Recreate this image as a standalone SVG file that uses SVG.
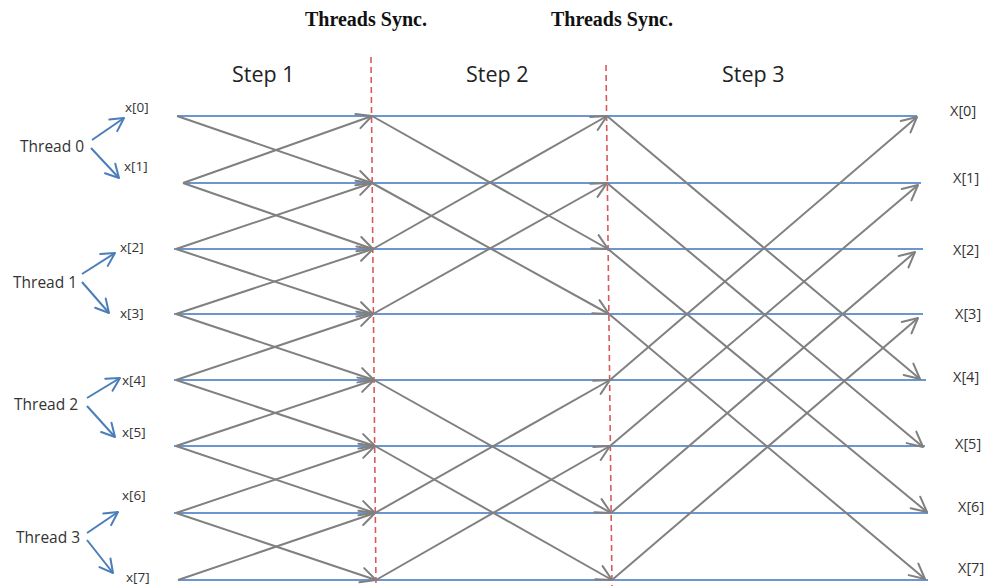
<svg xmlns="http://www.w3.org/2000/svg" width="986" height="586" viewBox="0 0 986 586">
<defs>
<marker id="ag" markerUnits="userSpaceOnUse" markerWidth="24" markerHeight="24" viewBox="-18 -12 24 24" refX="0" refY="0" orient="auto">
<path d="M-15,-7.5 L0,0 L-15,7.5" fill="none" stroke="#808080" stroke-width="2" stroke-linecap="round" stroke-linejoin="round"/>
</marker>
<marker id="ab" markerUnits="userSpaceOnUse" markerWidth="24" markerHeight="24" viewBox="-18 -12 24 24" refX="0" refY="0" orient="auto">
<path d="M-13,-7 L0,0 L-13,7" fill="none" stroke="#4a7ebb" stroke-width="2" stroke-linecap="round" stroke-linejoin="round"/>
</marker>
<style>
.sync{font-family:"Liberation Serif",serif;font-weight:bold;font-size:20px;fill:#111}
.step{font-family:"Open Sans",sans-serif;font-size:21.5px;fill:#222}
.th{font-family:"Open Sans",sans-serif;font-size:15.5px;fill:#333}
.xi{font-family:"Open Sans",sans-serif;font-size:13.5px;fill:#333}
.xo{font-family:"Open Sans",sans-serif;font-size:14.5px;fill:#333}
.row{stroke:#6b96cf;stroke-width:2;fill:none}
.g{stroke:#808080;stroke-width:2;fill:none;marker-end:url(#ag)}
.b{stroke:#4a7ebb;stroke-width:2;fill:none;marker-end:url(#ab)}
.sep{stroke:#d9595b;stroke-width:1.6;stroke-dasharray:6,4;fill:none}
</style>
</defs>
<rect width="986" height="586" fill="#fff"/>

<g id="headers">
<text class="sync" x="305" y="26">Threads Sync.</text>
<text class="sync" x="551" y="26">Threads Sync.</text>
<text class="step" x="232" y="82">Step 1</text>
<text class="step" x="466" y="82">Step 2</text>
<text class="step" x="722" y="82">Step 3</text>
</g>

<g id="sync-lines">
<line class="sep" x1="371" y1="57" x2="376" y2="586"/>
<line class="sep" x1="606" y1="65" x2="612" y2="586"/>
</g>

<g id="connectors">
<g id="rows">
<line class="row" x1="177" y1="116" x2="917" y2="116"/>
<line class="row" x1="183" y1="183" x2="921" y2="183"/>
<line class="row" x1="174" y1="249" x2="923" y2="249"/>
<line class="row" x1="174" y1="314" x2="923" y2="314"/>
<line class="row" x1="174" y1="380" x2="926" y2="380"/>
<line class="row" x1="174" y1="446" x2="925" y2="446"/>
<line class="row" x1="174" y1="513" x2="928" y2="513"/>
<line class="row" x1="178" y1="580" x2="928" y2="580"/>
</g>
<g id="step1">
<line class="g" x1="177" y1="116" x2="372" y2="183"/>
<line class="g" x1="183" y1="183" x2="372" y2="116"/>
<line class="g" x1="183" y1="183" x2="373" y2="249"/>
<line class="g" x1="176" y1="249" x2="372" y2="183"/>
<line class="g" x1="176" y1="249" x2="373" y2="314"/>
<line class="g" x1="176" y1="314" x2="373" y2="249"/>
<line class="g" x1="176" y1="314" x2="374" y2="380"/>
<line class="g" x1="176" y1="380" x2="373" y2="314"/>
<line class="g" x1="176" y1="380" x2="375" y2="446"/>
<line class="g" x1="176" y1="446" x2="374" y2="380"/>
<line class="g" x1="176" y1="446" x2="375" y2="513"/>
<line class="g" x1="176" y1="513" x2="375" y2="446"/>
<line class="g" x1="176" y1="513" x2="376" y2="580"/>
<line class="g" x1="178" y1="580" x2="375" y2="513"/>
</g>
<g id="step2">
<line class="g" x1="372" y1="116" x2="608" y2="249"/>
<line class="g" x1="372" y1="183" x2="609" y2="314"/>
<line class="g" x1="373" y1="249" x2="607" y2="116"/>
<line class="g" x1="373" y1="314" x2="607" y2="183"/>
<line class="g" x1="374" y1="380" x2="611" y2="513"/>
<line class="g" x1="375" y1="446" x2="612" y2="580"/>
<line class="g" x1="375" y1="513" x2="610" y2="380"/>
<line class="g" x1="376" y1="580" x2="610" y2="446"/>
</g>
<g id="step3">
<line class="g" x1="607" y1="116" x2="920" y2="379"/>
<line class="g" x1="607" y1="183" x2="923" y2="447"/>
<line class="g" x1="608" y1="249" x2="927" y2="512"/>
<line class="g" x1="609" y1="314" x2="925" y2="579"/>
<line class="g" x1="610" y1="380" x2="917" y2="117"/>
<line class="g" x1="610" y1="446" x2="918" y2="185"/>
<line class="g" x1="611" y1="513" x2="915" y2="252"/>
<line class="g" x1="612" y1="580" x2="918" y2="318"/>
</g>
<g id="thread-arrows">
<line class="b" x1="92" y1="140" x2="124" y2="118"/>
<line class="b" x1="91" y1="148" x2="119" y2="178"/>
<line class="b" x1="82" y1="274" x2="115" y2="253"/>
<line class="b" x1="82" y1="282" x2="109" y2="313"/>
<line class="b" x1="87" y1="398" x2="120" y2="378"/>
<line class="b" x1="87" y1="406" x2="115" y2="437"/>
<line class="b" x1="87" y1="533" x2="118" y2="512"/>
<line class="b" x1="87" y1="540" x2="113" y2="573"/>
</g>
</g>

<g id="thread0"><text class="th" x="20" y="152">Thread 0</text></g>
<g id="thread1"><text class="th" x="13" y="288">Thread 1</text></g>
<g id="thread2"><text class="th" x="14" y="410">Thread 2</text></g>
<g id="thread3"><text class="th" x="16" y="543">Thread 3</text></g>

<g id="in0"><text class="xi" x="125" y="112">x[0]</text></g>
<g id="in1"><text class="xi" x="124" y="171">x[1]</text></g>
<g id="in2"><text class="xi" x="120" y="252">x[2]</text></g>
<g id="in3"><text class="xi" x="120" y="318">x[3]</text></g>
<g id="in4"><text class="xi" x="122" y="385">x[4]</text></g>
<g id="in5"><text class="xi" x="122" y="437">x[5]</text></g>
<g id="in6"><text class="xi" x="122" y="500">x[6]</text></g>
<g id="in7"><text class="xi" x="126" y="582">x[7]</text></g>

<g id="out0"><text class="xo" x="950" y="116">X[0]</text></g>
<g id="out1"><text class="xo" x="953" y="183">X[1]</text></g>
<g id="out2"><text class="xo" x="953" y="255">X[2]</text></g>
<g id="out3"><text class="xo" x="955" y="319">X[3]</text></g>
<g id="out4"><text class="xo" x="953" y="382">X[4]</text></g>
<g id="out5"><text class="xo" x="955" y="449">X[5]</text></g>
<g id="out6"><text class="xo" x="958" y="512">X[6]</text></g>
<g id="out7"><text class="xo" x="958" y="573">X[7]</text></g>
</svg>
